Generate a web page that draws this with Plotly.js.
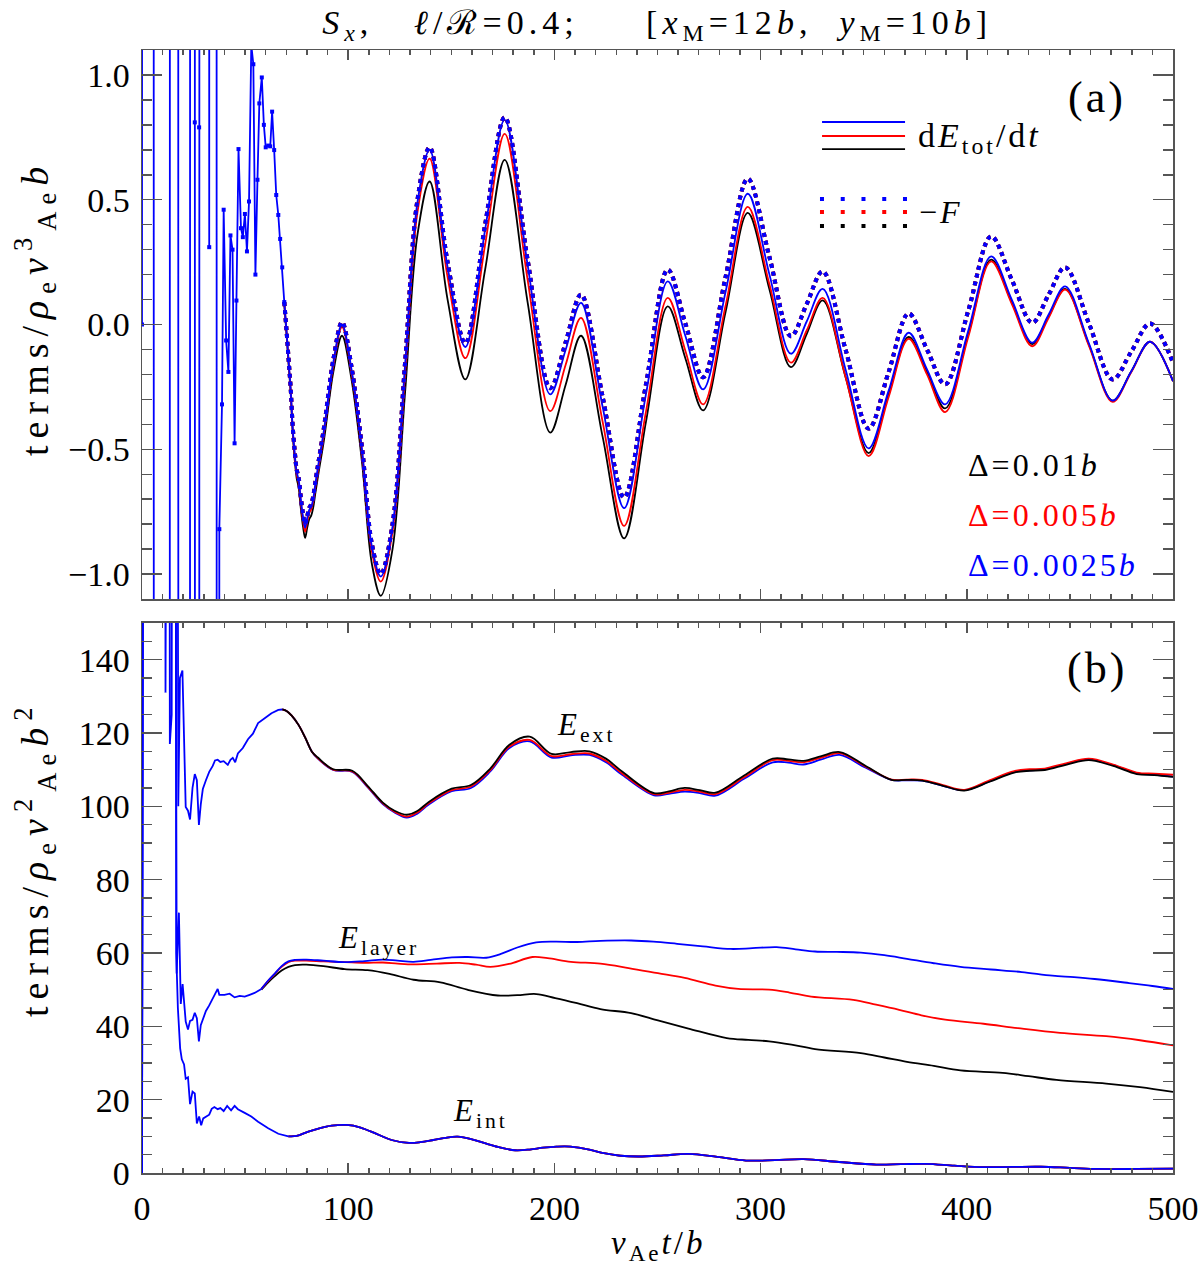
<!DOCTYPE html>
<html><head><meta charset="utf-8">
<script src="https://cdn.plot.ly/plotly-3.0.1.min.js"></script>
<style>
body{margin:0;background:#fff}
text.annotation-text{letter-spacing:3px}
g.annotation[data-index="10"] text, g.annotation[data-index="11"] text{letter-spacing:7px}
text.gtitle{letter-spacing:5px}
</style>
</head><body><div id="chart" style="width:1200px;height:1266px"></div>
<script>
// ---------- Panel (a): power terms ----------
const tEarlyA = [0, 1, 5.2, 6.2, 13.0, 14.0, 17.1, 18.1, 22.8, 23.8, 25.0, 25.6, 26.3, 27.2, 27.7, 28.4, 32.0, 32.6, 33.2, 35.8, 36.6, 37.5, 38.8, 39.6, 40.8, 41.9, 42.9, 43.9, 44.9, 45.8, 46.8, 48.0, 48.9, 49.9, 50.9, 51.9, 53.0, 54.0, 55.0, 56.0, 56.9, 58.1, 59.1, 60.0, 61.2, 62.2, 63.1, 64.1, 65.1, 66.1, 67.0, 68.0, 69.0];
const earlyA = [0, 40, 40, -40, -40, 40, 40, -40, -40, 40, 40, 0.81, -40, -40, 0.79, 40, 40, 0.31, 40, 40, -40, -0.82, -0.32, 0.46, -0.064, -0.19, 0.357, 0.30, -0.476, 0.096, 0.703, 0.386, 0.35, 0.443, 0.293, 0.493, 1.12, 1.043, 0.20, 0.58, 0.886, 0.99, 0.80, 0.71, 0.717, 0.714, 0.853, 0.699, 0.519, 0.439, 0.343, 0.229, 0.09];

const tLateA = [69.0, 70.1, 71.1, 72.1, 73.1, 74.1, 75.0, 76.0, 77.0, 78.1, 79.1, 80.1, 81.1, 82.1, 83.0, 84.0, 85.6, 88.3, 92.8, 97.0, 101.6, 106.8, 111.5, 115.8, 121.5, 127.6, 133.6, 139.5, 148.2, 156.8, 166.4, 175.9, 187.0, 198.0, 205.5, 212.9, 223.4, 233.8, 244.4, 255.0, 263.5, 272.1, 283.0, 293.8, 304.3, 314.7, 322.4, 330.1, 341.2, 352.4, 362.1, 371.8, 380.7, 389.5, 400.7, 411.8, 421.8, 431.7, 439.7, 447.7, 459.2, 470.7, 479.8, 488.9, 500];
const dEdtBlue = [0.09, -0.029, -0.147, -0.261, -0.419, -0.521, -0.59, -0.624, -0.70, -0.771, -0.814, -0.776, -0.743, -0.73, -0.70, -0.643, -0.557, -0.42, -0.15, 0.00, -0.18, -0.51, -0.89, -1.01, -0.81, -0.16, 0.49, 0.70, 0.23, -0.09, 0.38, 0.82, 0.24, -0.28, -0.10, 0.087, -0.33, -0.736, -0.28, 0.173, -0.045, -0.26, 0.13, 0.524, 0.20, -0.117, 0.013, 0.143, -0.18, -0.496, -0.265, -0.033, -0.18, -0.32, -0.025, 0.273, 0.10, -0.073, 0.04, 0.153, -0.075, -0.305, -0.187, -0.069, -0.227];
const dEdtRed = [0.09, -0.03, -0.15, -0.265, -0.425, -0.53, -0.60, -0.635, -0.71, -0.785, -0.83, -0.79, -0.755, -0.74, -0.71, -0.655, -0.57, -0.43, -0.16, -0.01, -0.19, -0.52, -0.91, -1.03, -0.83, -0.19, 0.45, 0.665, 0.19, -0.135, 0.32, 0.764, 0.18, -0.347, -0.16, 0.027, -0.39, -0.807, -0.35, 0.107, -0.105, -0.32, 0.075, 0.471, 0.16, -0.153, -0.023, 0.107, -0.21, -0.527, -0.29, -0.057, -0.20, -0.351, -0.05, 0.253, 0.083, -0.087, 0.027, 0.14, -0.085, -0.31, -0.19, -0.069, -0.227];
const dEdtBlack = [0.08, -0.04, -0.16, -0.275, -0.435, -0.545, -0.615, -0.655, -0.735, -0.81, -0.855, -0.815, -0.78, -0.765, -0.735, -0.68, -0.595, -0.46, -0.19, -0.045, -0.22, -0.56, -0.96, -1.087, -0.90, -0.27, 0.36, 0.573, 0.10, -0.22, 0.22, 0.66, 0.09, -0.433, -0.24, -0.045, -0.45, -0.857, -0.39, 0.073, -0.135, -0.344, 0.05, 0.447, 0.14, -0.171, -0.037, 0.097, -0.21, -0.515, -0.28, -0.05, -0.19, -0.336, -0.04, 0.26, 0.09, -0.078, 0.033, 0.143, -0.08, -0.305, -0.187, -0.069, -0.227];
const negF = [0.09, -0.025, -0.14, -0.255, -0.41, -0.51, -0.58, -0.615, -0.69, -0.76, -0.80, -0.77, -0.735, -0.72, -0.69, -0.635, -0.55, -0.41, -0.14, 0.01, -0.17, -0.50, -0.88, -1.00, -0.80, -0.15, 0.50, 0.71, 0.25, -0.075, 0.40, 0.83, 0.26, -0.255, -0.07, 0.12, -0.29, -0.693, -0.24, 0.22, 0.005, -0.211, 0.19, 0.584, 0.27, -0.047, 0.083, 0.213, -0.10, -0.417, -0.19, 0.044, -0.10, -0.24, 0.055, 0.353, 0.18, 0.007, 0.12, 0.229, 0.005, -0.22, -0.108, 0.004, -0.153];

// ---------- Panel (b): energies ----------
const tEarlyExt = [0, 1, 10.8, 11.4, 12.0, 13.0, 13.5, 14.4, 15.0, 16.6, 17.6, 18.4, 19.6, 21.2, 22.3, 23.3, 24.5, 25.6, 26.6, 27.6, 28.5, 29.5, 31.0, 32.6, 34.3, 35.4, 36.7, 38.0, 39.6, 41.6, 42.9, 44.0, 45.2, 46.5, 48.9, 51.4, 53.8, 56.3, 59.5, 62.8, 66.1, 68.0];
const earlyExt = [0, 400, 400, 131, 400, 400, 117, 125, 400, 400, 100, 135, 137, 99.8, 98.8, 96.4, 105, 108.8, 107.1, 94.9, 100.5, 104.7, 107.1, 109.4, 111, 112.5, 112.7, 112.1, 112.3, 111.3, 112.7, 113.2, 112, 114.4, 115.9, 118.3, 119.8, 122.7, 124, 125.4, 126.3, 126.4];
const tLateExt = [68.0, 70.1, 72.6, 75.9, 79.1, 82.4, 85.3, 92.7, 102.0, 109.4, 116.8, 122.5, 128.4, 133.5, 139.1, 150.2, 159.5, 168.9, 178.2, 188.0, 198.6, 208.0, 217.0, 225.0, 233.0, 248.3, 255.5, 263.2, 270.5, 278.1, 292.0, 305.9, 313.5, 320.8, 329.5, 338.4, 351.0, 363.5, 371.0, 378.4, 388.5, 398.8, 411.0, 423.0, 430.5, 437.8, 448.5, 459.2, 471.0, 482.4, 491.0, 500.0];
const extBlue = [126.4, 126.0, 124.7, 122.2, 118.8, 114.9, 113.0, 109.9, 109.4, 105.2, 100.6, 98.3, 96.9, 98.0, 100.5, 104.1, 105.0, 109.5, 115.9, 117.7, 113.3, 113.9, 114.0, 112.0, 108.5, 103.0, 103.4, 104.0, 103.6, 102.9, 107.5, 112.0, 111.9, 111.4, 112.8, 114.0, 110.5, 107.2, 107.1, 107.0, 105.6, 104.4, 106.8, 109.4, 109.8, 110.1, 111.6, 112.8, 111.2, 109.0, 108.6, 108.1];
const extRed = [126.4, 126.0, 124.7, 122.2, 118.8, 114.9, 113.1, 110.0, 109.5, 105.4, 100.8, 98.5, 97.2, 98.3, 100.8, 104.4, 105.4, 109.9, 116.3, 118.1, 113.7, 114.2, 114.4, 112.4, 108.9, 103.3, 103.7, 104.5, 104.0, 103.3, 107.9, 112.6, 112.4, 112.0, 113.3, 114.5, 110.8, 107.3, 107.3, 107.2, 105.8, 104.5, 107.1, 109.6, 110.1, 110.3, 111.8, 113.0, 111.4, 109.2, 108.9, 108.6];
const extBlack = [126.4, 126.0, 124.7, 122.2, 118.8, 114.9, 113.3, 110.1, 109.7, 105.6, 101.0, 98.8, 97.7, 98.7, 101.2, 104.8, 105.8, 110.3, 116.8, 119.0, 114.3, 114.8, 115.0, 113.0, 109.4, 103.6, 104.1, 105.0, 104.4, 103.7, 108.4, 113.0, 112.8, 112.4, 113.7, 114.8, 111.0, 107.2, 107.2, 107.0, 105.6, 104.3, 106.7, 109.2, 109.7, 109.9, 111.4, 112.6, 111.0, 108.8, 108.5, 108.0];

const tEarlyLay = [0, 1, 15.6, 16.8, 17.9, 18.8, 19.7, 21.2, 22.3, 23.3, 24.5, 25.6, 26.6, 27.6, 28.5, 29.7, 31.0, 32.6, 33.8, 35.4, 36.7, 37.5, 40.0, 42.5, 44.9, 47.4, 49.8, 52.2, 54.6, 57.9];
const earlyLay = [0, 400, 400, 54.4, 71, 46.1, 51.5, 41.3, 39.1, 41.5, 41.8, 43.7, 42.2, 35.9, 40.3, 42.2, 44.2, 45.7, 47.1, 49.1, 50.2, 48.6, 48.6, 48.9, 47.9, 48.3, 48.1, 48.6, 49.1, 50.2];
const tLayBlue = [57.9, 61.2, 64.4, 67.7, 71.0, 74.2, 79.7, 88.0, 98.3, 108.0, 116.8, 124.0, 131.7, 140.0, 150.3, 158.0, 167.0, 174.4, 182.0, 191.2, 200.4, 211.0, 222.3, 237.2, 248.0, 259.5, 272.0, 285.5, 296.0, 307.8, 317.0, 326.4, 337.0, 348.6, 360.0, 371.0, 384.0, 396.9, 411.8, 426.7, 441.5, 452.0, 462.0, 478.7, 490.0, 500.0];
const layBlue = [50.2, 52.5, 54.4, 56.4, 57.7, 58.1, 58.2, 57.9, 57.5, 57.8, 58.2, 57.9, 57.6, 58.1, 58.8, 58.9, 58.7, 59.8, 61.5, 62.9, 63.1, 63.0, 63.3, 63.4, 63.1, 62.5, 61.8, 61.1, 61.3, 61.6, 61.0, 60.4, 60.3, 60.1, 59.4, 58.4, 57.2, 56.2, 55.5, 54.8, 53.8, 53.4, 52.9, 51.8, 51.0, 50.2];
const tLayRed = [57.9, 61.2, 64.4, 67.7, 71.0, 74.2, 79.7, 88.0, 98.3, 108.0, 116.8, 124.0, 131.7, 143.0, 154.0, 162.0, 168.9, 178.0, 189.3, 196.7, 208.0, 222.3, 236.0, 250.2, 263.2, 278.1, 289.2, 304.1, 314.0, 324.5, 344.9, 356.0, 367.2, 378.0, 389.5, 408.1, 424.8, 445.2, 467.6, 484.0, 500.0];
const layRed = [50.2, 52.4, 54.3, 56.2, 57.5, 57.9, 57.9, 57.7, 57.5, 57.3, 57.4, 57.1, 56.9, 57.1, 57.3, 56.8, 56.2, 57.0, 58.9, 58.6, 57.6, 57.1, 55.9, 54.5, 53.2, 51.1, 50.2, 50.0, 49.2, 48.1, 47.2, 45.9, 44.5, 43.0, 41.8, 40.7, 39.5, 38.2, 37.3, 36.2, 34.8];
const tLayBlack = [57.9, 61.2, 64.4, 67.7, 71.0, 74.2, 79.7, 88.0, 98.3, 109.4, 120.0, 131.7, 144.7, 157.7, 172.6, 182.0, 191.2, 200.4, 211.0, 222.3, 237.2, 250.2, 265.0, 283.6, 294.0, 304.1, 315.0, 326.4, 348.6, 360.0, 371.0, 384.0, 396.9, 417.4, 430.0, 443.5, 467.6, 484.0, 500.0];
const layBlack = [50.0, 52.0, 53.7, 55.2, 56.2, 56.7, 56.8, 56.4, 55.6, 55.3, 54.3, 52.7, 52.0, 50.0, 48.4, 48.5, 48.8, 47.7, 46.3, 44.7, 43.6, 41.6, 39.4, 36.8, 36.3, 35.9, 35.0, 33.8, 32.7, 31.5, 30.3, 29.2, 28.0, 27.3, 26.4, 25.4, 24.4, 23.4, 22.1];

const tEarlyInt = [0, 1, 16.0, 16.6, 17.4, 18.5, 19.3, 20.4, 21.2, 22.3, 23.3, 24.5, 25.6, 26.6, 27.7, 28.7, 29.7, 31.0, 32.6, 33.8, 35.1, 36.7, 38.0, 39.6, 41.3, 43.2, 44.9, 46.5, 48.0, 49.8, 53.0, 56.3, 61.2, 66.1, 71.0];
const earlyInt = [0, 400, 400, 60, 45, 34, 31, 29.6, 25.7, 26.1, 18.8, 22.2, 21.7, 13.5, 15.4, 13.0, 14.9, 15.4, 15.9, 17.5, 18.0, 17.4, 17.7, 16.9, 18.3, 17.1, 18.3, 17.4, 17.0, 16.4, 15.4, 14.0, 12.2, 10.7, 10.0];
const tLateInt = [71.0, 75.0, 80.7, 86.0, 92.0, 99.2, 106.0, 114.0, 121.0, 129.5, 135.0, 141.3, 147.0, 153.1, 160.0, 167.0, 174.0, 181.0, 188.0, 194.5, 201.0, 207.9, 217.5, 224.0, 232.0, 240.9, 253.0, 265.0, 279.0, 292.9, 307.0, 320.8, 338.0, 356.0, 368.0, 380.2, 394.0, 408.0, 422.0, 435.9, 450.0, 463.8, 482.0, 500.0];
const lateInt = [10.0, 10.1, 11.3, 12.2, 12.9, 13.1, 12.4, 10.6, 9.0, 8.2, 8.4, 9.0, 9.6, 9.9, 9.2, 8.0, 6.9, 6.2, 6.4, 6.9, 7.2, 7.2, 6.3, 5.4, 4.7, 4.5, 4.8, 5.2, 4.4, 3.4, 3.5, 3.8, 3.0, 2.3, 2.4, 2.5, 2.0, 1.6, 1.65, 1.7, 1.4, 1.1, 1.1, 1.2];

const resolutionLabels = ['Δ=0.01<i>b</i>', 'Δ=0.005<i>b</i>', 'Δ=0.0025<i>b</i>'];
const resColors = ['#000000', '#ff0000', '#0000ff'];

// ---------- traces ----------
const FONT = 'Liberation Serif, Times New Roman, serif';
const BLUE = '#0000ff', RED = '#ff0000', BLACK = '#000000';
function sp(x, y, color, xa, ya, extra) {
  return Object.assign({type: 'scatter', mode: 'lines', x: x, y: y, xaxis: xa, yaxis: ya,
    line: {color: color, width: 1.8, shape: 'spline', smoothing: 1}, hoverinfo: 'skip', showlegend: false}, extra || {});
}
function lin(x, y, color, xa, ya, extra) {
  return Object.assign({type: 'scatter', mode: 'lines', x: x, y: y, xaxis: xa, yaxis: ya,
    line: {color: color, width: 1.8}, hoverinfo: 'skip', showlegend: false}, extra || {});
}
const dotLine = (c) => ({line: {color: c, width: 4, shape: 'spline', smoothing: 1, dash: '4px,4px'}});

const traces = [
  // panel a
  sp(tLateA, dEdtBlack, BLACK, 'x', 'y'),
  sp(tLateA, dEdtRed, RED, 'x', 'y'),
  sp(tLateA, dEdtBlue, BLUE, 'x', 'y'),
  sp(tLateA, negF, BLACK, 'x', 'y', dotLine(BLACK)),
  sp(tLateA, negF, RED, 'x', 'y', dotLine(RED)),
  sp(tLateA, negF, BLUE, 'x', 'y', dotLine(BLUE)),
  lin(tEarlyA, earlyA, BLUE, 'x', 'y', {mode: 'lines+markers', marker: {symbol: 'square', size: 4, color: BLUE}}),
  // panel b
  sp(tLateInt, lateInt, BLACK, 'x2', 'y2'),
  sp(tLateInt, lateInt, RED, 'x2', 'y2'),
  sp(tLateInt, lateInt, BLUE, 'x2', 'y2'),
  sp(tLayBlack, layBlack, BLACK, 'x2', 'y2'),
  sp(tLayRed, layRed, RED, 'x2', 'y2'),
  sp(tLayBlue, layBlue, BLUE, 'x2', 'y2'),
  sp(tLateExt, extBlue, BLUE, 'x2', 'y2'),
  sp(tLateExt, extRed, RED, 'x2', 'y2'),
  sp(tLateExt, extBlack, BLACK, 'x2', 'y2'),
  lin(tEarlyInt, earlyInt, BLUE, 'x2', 'y2'),
  lin(tEarlyLay, earlyLay, BLUE, 'x2', 'y2'),
  lin(tEarlyExt, earlyExt, BLUE, 'x2', 'y2')
];

// ---------- layout ----------
const AX = '#555555';
const tickFont = {family: FONT, size: 34, color: '#000'};
function xAxis(anchor, labels) {
  return {anchor: anchor, domain: [0, 1], range: [0, 500], tick0: 0, dtick: 100,
    ticks: 'inside', ticklen: 10, tickwidth: 1.5, tickcolor: AX,
    minor: {dtick: 10, ticks: 'inside', ticklen: 5, tickwidth: 1.5, tickcolor: AX, showgrid: false},
    showline: true, linecolor: AX, linewidth: 1.5, mirror: 'allticks',
    showgrid: false, zeroline: false, showticklabels: labels, tickfont: tickFont, ticklabelstandoff: 5};
}
function yAxis(anchor, domain, range, dtick, minorD, fmt) {
  return {anchor: anchor, domain: domain, range: range, tick0: 0, dtick: dtick, tickformat: fmt,
    ticks: 'inside', ticklen: 20, tickwidth: 1.5, tickcolor: AX,
    minor: {dtick: minorD, ticks: 'inside', ticklen: 10, tickwidth: 1.5, tickcolor: AX, showgrid: false},
    showline: true, linecolor: AX, linewidth: 1.5, mirror: 'allticks',
    showgrid: false, zeroline: false, tickfont: tickFont, ticklabelstandoff: 4};
}
const NB = '\u00a0';
const ann = (text, x, y, size, color, xanchor, extra) => Object.assign({text: text, x: x, y: y, xref: 'paper', yref: 'paper',
  showarrow: false, xanchor: xanchor || 'left', yanchor: 'middle', font: {family: FONT, size: size, color: color || '#000'}}, extra || {});

const layout = {
  width: 1200, height: 1266,
  margin: {l: 142, r: 27, t: 50, b: 93},
  paper_bgcolor: '#fff', plot_bgcolor: '#fff',
  showlegend: false,
  font: {family: FONT, color: '#000'},
  title: {text: '<i>S</i><sub><i>x</i></sub>,' + NB.repeat(3) + '<i>ℓ</i>/ℛ=0.4;' + NB.repeat(5) + '[<i>x</i><sub>M</sub>=12<i>b</i>,' + NB.repeat(2) + '<i>y</i><sub>M</sub>=10<i>b</i>]',
    x: 0.5477, xanchor: 'center', y: 0.9826, yanchor: 'middle', yref: 'container', xref: 'container',
    font: {family: FONT, size: 34, color: '#000'}},
  xaxis: xAxis('y', false),
  xaxis2: xAxis('y2', true),
  yaxis: yAxis('x', [0.5111, 1], [-1.1, 1.1], 0.5, 0.1, '.1f'),
  yaxis2: yAxis('x2', [0, 0.4898], [0, 150], 20, 5, 'd'),
  shapes: [
    {type: 'line', xref: 'paper', yref: 'paper', x0: 0.6596, x1: 0.7401, y0: 0.9359, y1: 0.9359, line: {color: BLUE, width: 1.8}},
    {type: 'line', xref: 'paper', yref: 'paper', x0: 0.6596, x1: 0.7401, y0: 0.9234, y1: 0.9234, line: {color: RED, width: 1.8}},
    {type: 'line', xref: 'paper', yref: 'paper', x0: 0.6596, x1: 0.7401, y0: 0.9118, y1: 0.9118, line: {color: BLACK, width: 1.8}},
    {type: 'line', xref: 'paper', yref: 'paper', x0: 0.6576, x1: 0.7421, y0: 0.8673, y1: 0.8673, line: {color: BLUE, width: 4, dash: '4px,16.75px'}},
    {type: 'line', xref: 'paper', yref: 'paper', x0: 0.6576, x1: 0.7421, y0: 0.8557, y1: 0.8557, line: {color: RED, width: 4, dash: '4px,16.75px'}},
    {type: 'line', xref: 'paper', yref: 'paper', x0: 0.6576, x1: 0.7421, y0: 0.8433, y1: 0.8433, line: {color: BLACK, width: 4, dash: '4px,16.75px'}}
  ],
  annotations: [
    ann('(a)', 0.9263, 0.9581, 44, '#000', 'center'),
    ann('(b)', 0.9263, 0.4488, 44, '#000', 'center'),
    ann('d<i>E</i><sub>tot</sub>/d<i>t</i>', 0.7507, 0.9216, 34),
    ann('−<i>F</i>', 0.7517, 0.8557, 32),
    ann(resolutionLabels[0], 0.7992, 0.6305, 32, resColors[0]),
    ann(resolutionLabels[1], 0.7992, 0.5859, 32, resColors[1]),
    ann(resolutionLabels[2], 0.7992, 0.5414, 32, resColors[2]),
    ann('<i>E</i><sub>ext</sub>', 0.4006, 0.3972, 31),
    ann('<i>E</i><sub>layer</sub>', 0.1882, 0.2075, 31),
    ann('<i>E</i><sub>int</sub>', 0.2997, 0.0534, 31),
    ann('terms/<i>ρ</i><sub>e</sub><i>v</i><sup>3</sup><sub>Ae</sub><i>b</i>', -0.1038, 0.7703, 38, '#000', 'center', {textangle: -90}),
    ann('terms/<i>ρ</i><sub>e</sub><i>v</i><sup>2</sup><sub>Ae</sub><i>b</i><sup>2</sup>', -0.1038, 0.2805, 38, '#000', 'center', {textangle: -90}),
    ann('<i>v</i><sub>Ae</sub><i>t</i>/<i>b</i>', 0.5, -0.0650, 33, '#000', 'center')
  ]
};

Plotly.newPlot('chart', traces, layout, {staticPlot: true, displayModeBar: false});
</script></body></html>
